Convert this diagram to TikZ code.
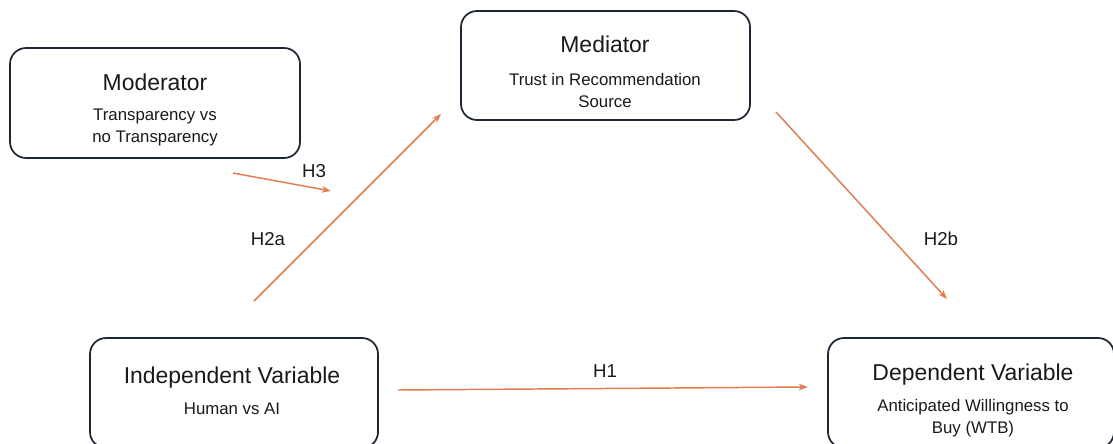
\documentclass[tikz,border=0pt]{standalone}
\usepackage{fontspec}
\setmainfont{Liberation Sans}
\usetikzlibrary{arrows.meta}
\definecolor{boxline}{RGB}{30,38,52}
\definecolor{arr}{RGB}{226,124,78}
\tikzset{
  box/.style={draw=boxline, line width=1.3pt, rounded corners=12pt, inner sep=0pt},
  title/.style={font=\fontsize{17.2}{20}\selectfont, text=black!90, inner sep=0pt, anchor=base},
  sub/.style={font=\fontsize{12.6}{16.5}\selectfont, text=black!90, inner sep=0pt, align=center, anchor=base},
  lab/.style={font=\fontsize{14}{16}\selectfont, text=black!90, inner sep=0pt, anchor=base},
  conn/.style={draw=arr, line width=1.1pt, -{Stealth[length=7pt,width=5pt]}}
}
\begin{document}
\begin{tikzpicture}[x=0.75pt,y=-0.75pt]
\useasboundingbox (0,0) rectangle (1113,443);
% boxes
\node[box, minimum width=290*0.75pt, minimum height=110*0.75pt] (mod) at (155,103) {};
\node[box, minimum width=289*0.75pt, minimum height=109*0.75pt] (med) at (605.5,65.5) {};
\node[box, minimum width=288*0.75pt, minimum height=110*0.75pt] (iv) at (234,393) {};
\node[box, minimum width=286*0.75pt, minimum height=110*0.75pt] (dv) at (971,393) {};
% texts
\node[title] (modt) at (155,90) {Moderator};
\node[sub] (mods) at (155,142) {Transparency vs\\no Transparency};
\node[title] (medt) at (605,52) {Mediator};
\node[sub] (meds) at (605,107) {Trust in Recommendation\\Source};
\node[title] (ivt) at (232,383) {Independent Variable};
\node[sub] (ivs) at (232,414) {Human vs AI};
\node[title] (dvt) at (973,380) {Dependent Variable};
\node[sub] (dvs) at (973,433) {Anticipated Willingness to\\Buy (WTB)};
% connector end points
\coordinate (h3s) at (233,173);
\coordinate (h3e) at (331,191);
\coordinate (h2as) at (254,301);
\coordinate (h2ae) at (441,114);
\coordinate (h2bs) at (776,112);
\coordinate (h2be) at (947,299);
\coordinate (h1s) at (398,390);
\coordinate (h1e) at (808,387);
\draw[conn] (h3s) -- (h3e);
\draw[conn] (h2as) -- (h2ae);
\draw[conn] (h2bs) -- (h2be);
\draw[conn] (h1s) -- (h1e);
% labels
\node[lab] (l3) at (314,177) {H3};
\node[lab] (l2a) at (268,245) {H2a};
\node[lab] (l2b) at (941,245) {H2b};
\node[lab] (l1) at (605,377) {H1};
\end{tikzpicture}
\end{document}
